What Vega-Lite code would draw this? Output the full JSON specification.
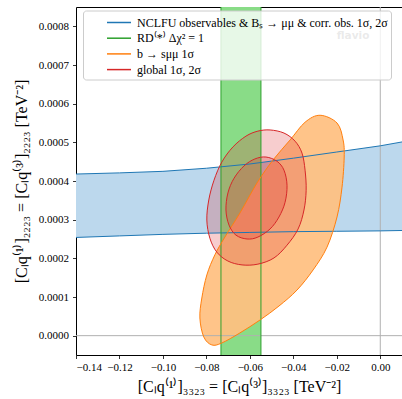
{
  "$schema": "https://vega.github.io/schema/vega-lite/v6.json",
  "width": 326,
  "height": 348,
  "autosize": {"type": "none"},
  "padding": {"left": 76, "top": 7, "right": 0, "bottom": 44},
  "background": "white",
  "datasets": {
    "blue": [
      {"i": 0, "x": -0.145, "y": 0.000417}, {"i": 1, "x": -0.14, "y": 0.000418}, {"i": 2, "x": -0.12, "y": 0.000421},
      {"i": 3, "x": -0.10, "y": 0.000425}, {"i": 4, "x": -0.08, "y": 0.000433}, {"i": 5, "x": -0.06, "y": 0.000444},
      {"i": 6, "x": -0.04, "y": 0.000459}, {"i": 7, "x": -0.02, "y": 0.000475}, {"i": 8, "x": 0.0, "y": 0.000491},
      {"i": 9, "x": 0.01, "y": 0.000501}, {"i": 10, "x": 0.015, "y": 0.000506},
      {"i": 11, "x": 0.015, "y": 0.000272}, {"i": 12, "x": 0.01, "y": 0.000272}, {"i": 13, "x": 0.0, "y": 0.000271},
      {"i": 14, "x": -0.02, "y": 0.00027}, {"i": 15, "x": -0.04, "y": 0.000269}, {"i": 16, "x": -0.06, "y": 0.000267},
      {"i": 17, "x": -0.08, "y": 0.000265}, {"i": 18, "x": -0.10, "y": 0.000262}, {"i": 19, "x": -0.12, "y": 0.000258},
      {"i": 20, "x": -0.14, "y": 0.000254}, {"i": 21, "x": -0.145, "y": 0.000253}
    ],
    "green": [{"x1": -0.0733, "x2": -0.0549, "y1": -0.0001, "y2": 0.0009}],
    "orange": [
      {"i": 0, "x": -0.0277, "y": 0.000570}, {"i": 1, "x": -0.0199, "y": 0.000550}, {"i": 2, "x": -0.0171, "y": 0.000506},
      {"i": 3, "x": -0.0166, "y": 0.000462}, {"i": 4, "x": -0.0176, "y": 0.000384}, {"i": 5, "x": -0.0199, "y": 0.000307},
      {"i": 6, "x": -0.0245, "y": 0.000229}, {"i": 7, "x": -0.0309, "y": 0.000170}, {"i": 8, "x": -0.0383, "y": 0.000118},
      {"i": 9, "x": -0.0466, "y": 0.0000767}, {"i": 10, "x": -0.0553, "y": 0.0000406}, {"i": 11, "x": -0.0646, "y": 0.0000070},
      {"i": 12, "x": -0.0729, "y": -0.0000189}, {"i": 13, "x": -0.0775, "y": -0.0000240}, {"i": 14, "x": -0.0812, "y": -0.0000034},
      {"i": 15, "x": -0.0830, "y": 0.0000457}, {"i": 16, "x": -0.0821, "y": 0.0000974}, {"i": 17, "x": -0.0798, "y": 0.000157},
      {"i": 18, "x": -0.0761, "y": 0.000209}, {"i": 19, "x": -0.0715, "y": 0.000255}, {"i": 20, "x": -0.0646, "y": 0.000317},
      {"i": 21, "x": -0.0567, "y": 0.000395}, {"i": 22, "x": -0.0494, "y": 0.000454}, {"i": 23, "x": -0.0415, "y": 0.000506},
      {"i": 24, "x": -0.0346, "y": 0.000552}
    ],
    "redOuter": [
      {"i": 0, "x": -0.0507, "y": 0.000532}, {"i": 1, "x": -0.0443, "y": 0.000524}, {"i": 2, "x": -0.0392, "y": 0.000503},
      {"i": 3, "x": -0.0360, "y": 0.000472}, {"i": 4, "x": -0.0346, "y": 0.000428}, {"i": 5, "x": -0.0341, "y": 0.000376},
      {"i": 6, "x": -0.0351, "y": 0.000325}, {"i": 7, "x": -0.0378, "y": 0.000276}, {"i": 8, "x": -0.0429, "y": 0.000234},
      {"i": 9, "x": -0.0489, "y": 0.000201}, {"i": 10, "x": -0.0563, "y": 0.000185}, {"i": 11, "x": -0.0636, "y": 0.000183},
      {"i": 12, "x": -0.0701, "y": 0.000193}, {"i": 13, "x": -0.0752, "y": 0.000216}, {"i": 14, "x": -0.0784, "y": 0.000252},
      {"i": 15, "x": -0.0798, "y": 0.000299}, {"i": 16, "x": -0.0789, "y": 0.000351}, {"i": 17, "x": -0.0765, "y": 0.000402},
      {"i": 18, "x": -0.0729, "y": 0.000449}, {"i": 19, "x": -0.0678, "y": 0.000488}, {"i": 20, "x": -0.0618, "y": 0.000516},
      {"i": 21, "x": -0.0563, "y": 0.000529}
    ],
    "redInner": [
      {"i": 0, "x": -0.0526, "y": 0.000462}, {"i": 1, "x": -0.0475, "y": 0.000451}, {"i": 2, "x": -0.0443, "y": 0.000428},
      {"i": 3, "x": -0.0429, "y": 0.000389}, {"i": 4, "x": -0.0438, "y": 0.000345}, {"i": 5, "x": -0.0466, "y": 0.000307},
      {"i": 6, "x": -0.0507, "y": 0.000276}, {"i": 7, "x": -0.0563, "y": 0.000255}, {"i": 8, "x": -0.0613, "y": 0.000250},
      {"i": 9, "x": -0.0664, "y": 0.000260}, {"i": 10, "x": -0.0696, "y": 0.000286}, {"i": 11, "x": -0.0710, "y": 0.000325},
      {"i": 12, "x": -0.0701, "y": 0.000369}, {"i": 13, "x": -0.0673, "y": 0.000407}, {"i": 14, "x": -0.0627, "y": 0.000439},
      {"i": 15, "x": -0.0577, "y": 0.000457}
    ],
    "mark": [{"x": -0.0125, "y": 0.000775, "t": "flavio"}],
    "zero": [{"v": 0}]
  },
  "layer": [
    {
      "data": {"name": "blue"},
      "mark": {"type": "line", "interpolate": "linear-closed", "fill": "#bcd8ed", "strokeOpacity": 0, "clip": true},
      "encoding": {
        "x": {"field": "x", "type": "quantitative"},
        "y": {"field": "y", "type": "quantitative"},
        "order": {"field": "i"}
      }
    },
    {
      "data": {"name": "green"},
      "mark": {"type": "rect", "fill": "#89dc87", "strokeOpacity": 0, "clip": true},
      "encoding": {
        "x": {"field": "x1", "type": "quantitative"},
        "x2": {"field": "x2"},
        "y": {"field": "y1", "type": "quantitative"},
        "y2": {"field": "y2"}
      }
    },
    {
      "data": {"name": "orange"},
      "mark": {"type": "line", "interpolate": "cardinal-closed", "fill": "#ffbf80", "fillOpacity": 0.93, "strokeOpacity": 0, "clip": true},
      "encoding": {
        "x": {"field": "x", "type": "quantitative"},
        "y": {"field": "y", "type": "quantitative"},
        "order": {"field": "i"}
      }
    },
    {
      "data": {"name": "redOuter"},
      "mark": {"type": "line", "interpolate": "cardinal-closed", "fill": "#e0393b", "fillOpacity": 0.25, "strokeOpacity": 0, "clip": true},
      "encoding": {
        "x": {"field": "x", "type": "quantitative"},
        "y": {"field": "y", "type": "quantitative"},
        "order": {"field": "i"}
      }
    },
    {
      "data": {"name": "redInner"},
      "mark": {"type": "line", "interpolate": "cardinal-closed", "fill": "#e0393b", "fillOpacity": 0.28, "strokeOpacity": 0, "clip": true},
      "encoding": {
        "x": {"field": "x", "type": "quantitative"},
        "y": {"field": "y", "type": "quantitative"},
        "order": {"field": "i"}
      }
    },
    {
      "data": {"name": "zero"},
      "mark": {"type": "rule", "stroke": "#b0b0b0", "strokeWidth": 1, "clip": true},
      "encoding": {"x": {"field": "v", "type": "quantitative"}}
    },
    {
      "data": {"name": "zero"},
      "mark": {"type": "rule", "stroke": "#b0b0b0", "strokeWidth": 1, "clip": true},
      "encoding": {"y": {"field": "v", "type": "quantitative"}}
    },
    {
      "data": {"name": "blue"},
      "transform": [{"calculate": "'NCLFU observables & Bₛ → μμ & corr. obs. 1σ, 2σ'", "as": "series"}],
      "mark": {"type": "line", "interpolate": "linear-closed", "strokeWidth": 1, "clip": true},
      "encoding": {
        "x": {"field": "x", "type": "quantitative"},
        "y": {"field": "y", "type": "quantitative"},
        "order": {"field": "i"},
        "stroke": {"field": "series", "type": "nominal"}
      }
    },
    {
      "data": {"name": "green"},
      "transform": [{"calculate": "'RD⁽*⁾ Δχ² = 1'", "as": "series"}],
      "mark": {"type": "rect", "fillOpacity": 0, "strokeWidth": 1, "clip": true},
      "encoding": {
        "x": {"field": "x1", "type": "quantitative"},
        "x2": {"field": "x2"},
        "y": {"field": "y1", "type": "quantitative"},
        "y2": {"field": "y2"},
        "stroke": {"field": "series", "type": "nominal"}
      }
    },
    {
      "data": {"name": "orange"},
      "transform": [{"calculate": "'b → sμμ 1σ'", "as": "series"}],
      "mark": {"type": "line", "interpolate": "cardinal-closed", "strokeWidth": 1, "clip": true},
      "encoding": {
        "x": {"field": "x", "type": "quantitative"},
        "y": {"field": "y", "type": "quantitative"},
        "order": {"field": "i"},
        "stroke": {"field": "series", "type": "nominal"}
      }
    },
    {
      "data": {"name": "redOuter"},
      "transform": [{"calculate": "'global 1σ, 2σ'", "as": "series"}],
      "mark": {"type": "line", "interpolate": "cardinal-closed", "strokeWidth": 1, "clip": true},
      "encoding": {
        "x": {"field": "x", "type": "quantitative"},
        "y": {"field": "y", "type": "quantitative"},
        "order": {"field": "i"},
        "stroke": {"field": "series", "type": "nominal"}
      }
    },
    {
      "data": {"name": "redInner"},
      "transform": [{"calculate": "'global 1σ, 2σ'", "as": "series"}],
      "mark": {"type": "line", "interpolate": "cardinal-closed", "strokeWidth": 1, "clip": true},
      "encoding": {
        "x": {"field": "x", "type": "quantitative"},
        "y": {"field": "y", "type": "quantitative"},
        "order": {"field": "i"},
        "stroke": {"field": "series", "type": "nominal"}
      }
    },
    {
      "data": {"name": "mark"},
      "mark": {"type": "text", "font": "DejaVu Sans", "fontWeight": "bold", "fontSize": 10.5, "fill": "#969696", "clip": true},
      "encoding": {
        "x": {"field": "x", "type": "quantitative"},
        "y": {"field": "y", "type": "quantitative"},
        "text": {"field": "t"}
      }
    }
  ],
  "encoding": {
    "x": {
      "type": "quantitative",
      "scale": {"domain": [-0.14, 0.01], "nice": false, "zero": false},
      "axis": {
        "title": "[Cₗq⁽¹⁾]₃₃₂₃ = [Cₗq⁽³⁾]₃₃₂₃ [TeV⁻²]",
        "values": [-0.14, -0.12, -0.10, -0.08, -0.06, -0.04, -0.02, 0.0],
        "labelExpr": "replace(format(datum.value, '.2f'), '-', '−')",
        "labelPadding": 3,
        "titlePadding": 6,
        "titleFontSize": 16
      }
    },
    "y": {
      "type": "quantitative",
      "scale": {"domain": [-0.00005, 0.00085], "nice": false, "zero": false},
      "axis": {
        "title": "[Cₗq⁽¹⁾]₂₂₂₃ = [Cₗq⁽³⁾]₂₂₂₃ [TeV⁻²]",
        "values": [0, 0.0001, 0.0002, 0.0003, 0.0004, 0.0005, 0.0006, 0.0007, 0.0008],
        "labelExpr": "format(datum.value, '.4f')",
        "labelPadding": 4,
        "titlePadding": 9,
        "titleFontSize": 16
      }
    },
    "stroke": {
      "scale": {
        "domain": ["NCLFU observables & Bₛ → μμ & corr. obs. 1σ, 2σ", "RD⁽*⁾ Δχ² = 1", "b → sμμ 1σ", "global 1σ, 2σ"],
        "range": ["#1f77b4", "#2ca02c", "#ff7f0e", "#d62728"]
      },
      "legend": {
        "title": null,
        "orient": "none",
        "legendX": 7,
        "legendY": 3.5,
        "symbolType": "M-1.5,0H1.5",
        "symbolSize": 256,
        "symbolOffset": 24,
        "symbolStrokeWidth": 1.5,
        "symbolOpacity": 1,
        "labelFont": "Liberation Serif",
        "labelFontSize": 12,
        "labelColor": "black",
        "labelLimit": 400,
        "labelOffset": 9,
        "rowPadding": 0.7,
        "padding": 3,
        "fillColor": "rgba(255,255,255,0.8)",
        "strokeColor": "#cccccc",
        "cornerRadius": 3
      }
    }
  },
  "config": {
    "view": {"stroke": "black", "strokeWidth": 1},
    "axis": {
      "domain": false,
      "grid": false,
      "tickColor": "black",
      "tickSize": 3.5,
      "tickWidth": 0.8,
      "labelColor": "black",
      "labelFont": "Liberation Serif",
      "labelFontSize": 11,
      "titleFont": "Liberation Serif",
      "titleFontSize": 14,
      "titleFontWeight": "normal",
      "titleColor": "black"
    }
  }
}
